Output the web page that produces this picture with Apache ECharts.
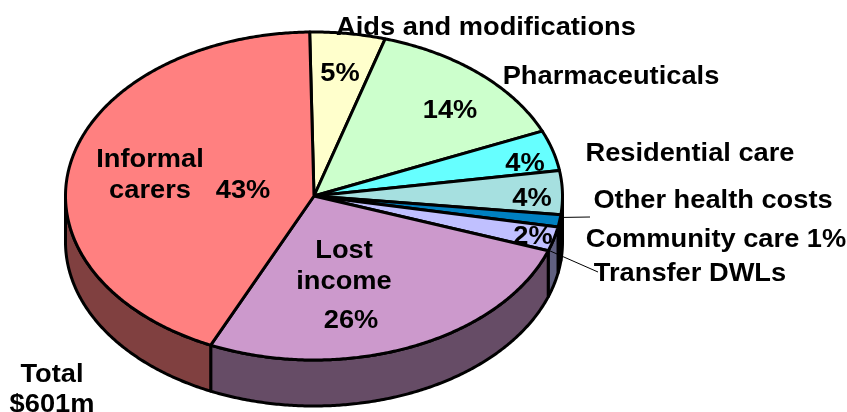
<!DOCTYPE html>
<html>
<head>
<meta charset="utf-8">
<style>html,body{margin:0;padding:0;background:#fff}#c{width:847px;height:412px}</style>
<script src="https://cdn.jsdelivr.net/npm/echarts@6/dist/echarts.min.js"></script>
</head>
<body>
<div id="c"></div>
<script>
// Share of total cost per component, percent, clockwise from the top of the pie
const names = ['Aids and modifications','Pharmaceuticals','Residential care','Other health costs','Community care','Transfer DWLs','Lost income','Informal carers'];
const shares = [4.9, 13.9, 4.0, 4.3, 1.2, 2.4, 26.4, 42.9];
const topColors = ['#FFFFCC','#CCFFCC','#66FFFF','#A6E0E0','#0080C0','#C0C0FF','#CC99CC','#FF8080'];
const wallColors = ['#808066','#668066','#338080','#537070','#004060','#606080','#664C66','#804040'];
const totalLabel = ['Total', '$601m'];

// Pie projection
const CX = 314, CY = 196, RX = 248.5, RY = 164, DEPTH = 46, START = -1;
const FONT = 'bold 25px "Liberation Sans", Arial, sans-serif';
const TEXT_STRETCH = 1.09;

// Text placement, keyed by slice index (centre x, centre y)
const nameSpots = {
  0: [[486, 28]], 1: [[611, 77]], 2: [[690, 154]], 3: [[713, 201]],
  4: [[716, 240]], 5: [[690, 274]], 6: [[344, 251], [344, 282]], 7: [[150, 160], [150, 191]]
};
const nameLines = { 6: ['Lost', 'income'], 7: ['Informal', 'carers'] };
const pctSpots = { 0: [340, 74], 1: [450, 111], 2: [525, 164], 3: [532, 199], 5: [533, 237], 6: [351, 321], 7: [243, 191] };
const leaderEnds = { 4: [590, 217], 5: [598, 272] };

const sum = shares.reduce((a, b) => a + b, 0);
let acc = START;
const spans = shares.map(v => { const a = acc; acc += v / sum * 360; return [a, acc]; });

const rad = d => d * Math.PI / 180;
const rim = (deg, dy) => [CX + RX * Math.sin(rad(deg)), CY - RY * Math.cos(rad(deg)) + (dy || 0)];
function arc(a, b, dy) {
  const n = Math.max(2, Math.ceil(Math.abs(b - a) / 0.5)), pts = [];
  for (let i = 0; i <= n; i++) pts.push(rim(a + (b - a) * i / n, dy));
  return pts;
}
const edge = { stroke: '#000', lineWidth: 3, lineJoin: 'round' };

function drawWall(params) {
  const i = params.dataIndex;
  const a = Math.max(spans[i][0], 90), b = Math.min(spans[i][1], 270);
  if (b <= a) return { type: 'group', children: [] };
  const pts = arc(a, b, 0).concat(arc(b, a, DEPTH));
  return { type: 'polygon', shape: { points: pts }, style: Object.assign({ fill: wallColors[i] }, edge) };
}
function drawTop(params) {
  const i = params.dataIndex;
  const pts = [[CX, CY]].concat(arc(spans[i][0], spans[i][1], 0));
  return { type: 'polygon', shape: { points: pts }, style: Object.assign({ fill: topColors[i] }, edge) };
}
const label = (text, x, y) => ({
  type: 'text', x, y, scaleX: TEXT_STRETCH,
  style: { text, x: 0, y: 0, font: FONT, fill: '#000', align: 'center', verticalAlign: 'middle' }
});
function drawText(params) {
  const i = params.dataIndex, kids = [];
  const pct = Math.round(shares[i]) + '%';
  const lines = nameLines[i] || [i === 4 ? names[i] + ' ' + pct : names[i]];
  lines.forEach((t, k) => kids.push(label(t, nameSpots[i][k][0], nameSpots[i][k][1])));
  if (pctSpots[i]) kids.push(label(pct, pctSpots[i][0], pctSpots[i][1]));
  if (leaderEnds[i]) {
    const from = i === 4 ? rim((spans[i][0] + spans[i][1]) / 2 - 1.2) : rim(spans[i][1] - 0.2);
    const to = leaderEnds[i];
    kids.push({
      type: 'line',
      shape: { x1: from[0], y1: from[1], x2: to[0], y2: to[1] },
      style: { stroke: '#000', lineWidth: 1 }
    });
  }
  return { type: 'group', children: kids };
}

const chart = echarts.init(document.getElementById('c'), null, { renderer: 'canvas' });
const rows = names.map((n, i) => ({ name: n, value: shares[i] }));
chart.setOption({
  animation: false,
  backgroundColor: '#fff',
  tooltip: { show: false },
  series: [
    { type: 'custom', coordinateSystem: 'none', renderItem: drawWall, data: rows, silent: true, z: 1 },
    { type: 'custom', coordinateSystem: 'none', renderItem: drawTop, data: rows, silent: true, z: 2 },
    { type: 'custom', coordinateSystem: 'none', renderItem: drawText, data: rows, silent: true, z: 3 }
  ],
  graphic: totalLabel.map((t, i) => Object.assign(label(t, 52, 375 + i * 30), { z: 10 }))
});
</script>
</body>
</html>
